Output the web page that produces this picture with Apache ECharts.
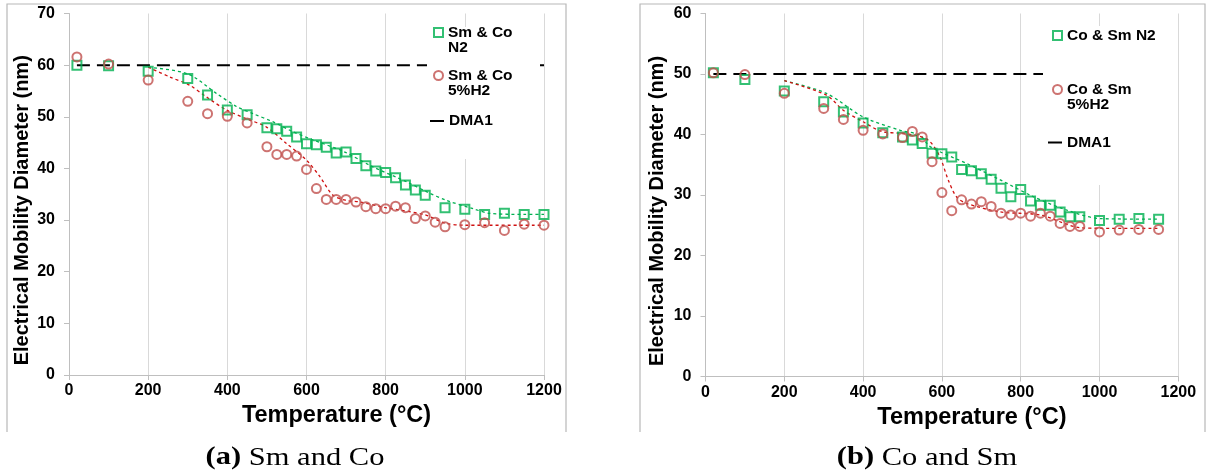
<!DOCTYPE html>
<html><head><meta charset="utf-8">
<script src="https://cdn.jsdelivr.net/npm/echarts@6/dist/echarts.min.js"></script>
<style>html,body{margin:0;padding:0;background:#fff}#c{width:1206px;height:475px}</style>
</head><body><div id="c"></div>
<script>
// ---------- tick labels ----------
const xTicks = [0, 200, 400, 600, 800, 1000, 1200];
const yTicksLeft = [0, 10, 20, 30, 40, 50, 60, 70];
const yTicksRight = [0, 10, 20, 30, 40, 50, 60];

// ---------- (a) Sm and Co ----------
const leftN2Temp = [20,100,200,300,350,400,450,500,525,550,575,600,625,650,675,700,725,750,775,800,825,850,875,900,950,1000,1050,1100,1150,1200];
const leftN2Val  = [60.0,59.9,58.8,57.4,54.2,51.3,50.4,47.9,47.7,47.2,46.1,44.8,44.6,44.1,43.0,43.2,41.9,40.5,39.5,39.2,38.2,36.8,35.8,34.8,32.4,32.1,31.1,31.3,31.1,31.1];
const leftH2Temp = [20,100,200,300,350,400,450,500,525,550,575,600,625,650,675,700,725,750,775,800,825,850,875,900,925,950,1000,1050,1100,1150,1200];
const leftH2Val  = [61.6,60.2,57.1,53.0,50.6,50.1,48.8,44.2,42.7,42.7,42.4,39.8,36.1,34.0,34.0,34.0,33.5,32.6,32.2,32.2,32.7,32.4,30.3,30.8,29.6,28.7,29.1,29.5,28.0,29.2,29.0];
const leftN2TrendTemp = [200,300,373,423,465,516,566,617,693,768,853,903,954,1021,1063,1150,1200];
const leftN2TrendVal  = [59.6,58.3,54.5,52.0,50.6,49.0,47.1,45.5,43.3,40.3,37.4,35.5,33.8,32.2,31.3,31.1,31.1];
const leftH2TrendTemp = [200,255,305,348,398,449,499,550,600,634,667,701,735,800,900,950,1000,1200];
const leftH2TrendVal  = [59.6,57.7,56.1,53.8,51.3,49.6,48.0,44.8,41.6,38.4,34.8,33.8,33.5,32.4,31.0,29.4,29.0,29.0];
const leftDmaTemp = [20, 1200];
const leftDmaVal  = [60, 60];

// ---------- (b) Co and Sm ----------
const rightTemp  = [20,100,200,300,350,400,450,500,525,550,575,600,625,650,675,700,725,750,775,800,825,850,875,900,925,950,1000,1050,1100,1150];
const rightN2Val = [50.2,49.1,47.2,45.4,43.7,41.9,40.3,39.6,39.1,38.5,36.9,36.8,36.3,34.2,34.0,33.5,32.6,31.1,29.7,30.9,29.0,28.3,28.3,27.2,26.4,26.4,25.8,26.0,26.1,26.0];
const rightH2Val = [50.2,49.9,46.8,44.3,42.5,40.7,40.1,39.5,40.5,39.6,35.5,30.4,27.4,29.2,28.5,28.9,28.1,27.0,26.7,27.0,26.5,27.0,26.5,25.3,24.8,24.8,23.9,24.2,24.3,24.3];
const rightN2TrendTemp = [200,307,400,494,544,570,663,748,833,917,1001,1150];
const rightN2TrendVal  = [48.9,46.8,42.9,40.7,39.9,38.0,35.2,32.5,29.7,27.5,26.1,26.0];
const rightH2TrendTemp = [200,307,350,400,447,494,544,570,595,616,637,663,748,849,950,1001,1150];
const rightH2TrendVal  = [48.9,46.5,44.0,42.1,40.5,40.2,39.7,38.8,36.3,32.5,29.7,28.6,27.2,26.7,24.6,24.5,24.5];
const rightDmaTemp = [20, 1150];
const rightDmaVal  = [50, 50];

const seriesNames = {
  lN2: 'Sm & Co\nN2', lH2: 'Sm & Co\n5%H2',
  rN2: 'Co & Sm N2',  rH2: 'Co & Sm\n5%H2', dma: 'DMA1'
};

// ---------- styling ----------
const FONT = '"Liberation Sans", Arial, Helvetica, sans-serif';
const GREEN = '#00b050';
const RED = '#c0504d';
const RED_TREND = '#d01010';
const AXIS_GRAY = '#bfbfbf';
const GRID_GRAY = '#d9d9d9';

const pairs = (xs, ys) => xs.map((x, i) => [x, ys[i]]);

function xAxis(gridIndex) {
  return {
    type: 'value', gridIndex,
    min: xTicks[0], max: xTicks[xTicks.length - 1], interval: xTicks[1] - xTicks[0],
    name: 'Temperature (°C)', nameLocation: 'middle', nameGap: 22,
    nameTextStyle: { fontFamily: FONT, fontWeight: 'bold', fontSize: 23.5, color: '#000', padding: [0, 0, 0, 60] },
    axisLine: { show: true, onZero: false, lineStyle: { color: AXIS_GRAY, width: 1 } },
    axisTick: { show: true, length: 5, lineStyle: { color: AXIS_GRAY } },
    axisLabel: { fontFamily: FONT, fontWeight: 'bold', fontSize: 16, color: '#000', margin: 8,
      formatter: v => String(v) },
    splitLine: { show: true, lineStyle: { color: GRID_GRAY, width: 1 } }
  };
}
function yAxis(gridIndex, ticks, gap) {
  return {
    type: 'value', gridIndex,
    min: ticks[0], max: ticks[ticks.length - 1], interval: ticks[1] - ticks[0],
    name: 'Electrical Mobility Diameter (nm)', nameLocation: 'middle', nameGap: gap,
    nameTextStyle: { fontFamily: FONT, fontWeight: 'bold', fontSize: 20, color: '#000', padding: [0, 32, 0, 0] },
    axisLine: { show: true, lineStyle: { color: AXIS_GRAY, width: 1 } },
    axisTick: { show: true, length: 5, lineStyle: { color: AXIS_GRAY } },
    axisLabel: { fontFamily: FONT, fontWeight: 'bold', fontSize: 16, color: '#000', margin: 14,
      formatter: v => String(v) },
    splitLine: { show: false }
  };
}
function squares(name, data, idx) {
  return { type: 'scatter', name, xAxisIndex: idx, yAxisIndex: idx, data, symbol: 'rect', symbolSize: 9,
    itemStyle: { color: 'rgba(255,255,255,0)', borderColor: GREEN, borderWidth: 2 }, z: 3 };
}
function circles(name, data, idx) {
  return { type: 'scatter', name, xAxisIndex: idx, yAxisIndex: idx, data, symbol: 'circle', symbolSize: 9,
    itemStyle: { color: 'rgba(255,255,255,0)', borderColor: RED, borderWidth: 2 }, z: 3 };
}
function trend(name, data, idx, color) {
  return { type: 'line', name, xAxisIndex: idx, yAxisIndex: idx, data, showSymbol: false, symbol: 'none',
    smooth: 0.3, lineStyle: { color, width: 1.3, type: [3, 3] }, z: 2, silent: true };
}
function dma(data, idx) {
  return { type: 'line', name: seriesNames.dma, xAxisIndex: idx, yAxisIndex: idx, data, showSymbol: false, symbol: 'none',
    lineStyle: { color: '#000', width: 2, type: [13, 7] }, itemStyle: { color: '#000' }, z: 2 };
}

const LFS = 15.5, LLH = 15;
const legendText = { fontFamily: FONT, fontWeight: 'bold', fontSize: LFS, lineHeight: LLH, color: '#000' };
// multi-line legend labels: first line level with the icon (a blank spacer line above balances the block)
function legendFormatter(name) {
  const lines = name.split('\n');
  if (lines.length === 1) return name;
  return '{s| }\n' + lines.map(l => '{t|' + l + '}').join('\n');
}
function legendItem(name, left, top, kind) {
  const base = { left, top, padding: 0, selectedMode: false, orient: 'vertical', itemGap: 0, z: 6,
    formatter: legendFormatter };
  const textStyle = Object.assign({}, legendText, {
    rich: { t: Object.assign({}, legendText), s: { fontSize: LFS, lineHeight: LLH } }
  });
  if (kind === 'dma') {
    return Object.assign(base, { itemWidth: 14, itemHeight: 2,
      data: [{ name, icon: 'rect', itemStyle: { color: '#000', borderWidth: 0 } }], textStyle });
  }
  return Object.assign(base, { itemWidth: 9, itemHeight: 9,
    data: [{ name, icon: kind === 'sq' ? 'rect' : 'circle',
      itemStyle: { color: '#fff', borderColor: kind === 'sq' ? GREEN : RED, borderWidth: 2 } }],
    textStyle });
}
// place a legend item so that its icon centre sits at (iconLeft, iconCy)
function legendAt(name, iconLeft, iconCy, kind) {
  const lines = name.split('\n').length;
  const h = lines === 1 ? LLH : (lines + 1) * LLH;
  return legendItem(name, iconLeft, iconCy - h / 2, kind);
}

const frame = '#b8b8b8';
const serif = '"Liberation Serif", "DejaVu Serif", serif';
const option = {
  animation: false,
  backgroundColor: '#fff',
  grid: [
    { left: 69, top: 13.5, width: 475, height: 361.5, containLabel: false },
    { left: 705.5, top: 13.5, width: 472.8, height: 363, containLabel: false }
  ],
  xAxis: [xAxis(0), xAxis(1)],
  yAxis: [yAxis(0, yTicksLeft, 37), yAxis(1, yTicksRight, 38)],
  legend: [
    legendAt(seriesNames.lN2, 433, 32, 'sq'),
    legendAt(seriesNames.lH2, 433, 75, 'ci'),
    legendAt(seriesNames.dma, 430, 120.5, 'dma'),
    legendAt(seriesNames.rN2, 1052, 35, 'sq'),
    legendAt(seriesNames.rH2, 1052, 89, 'ci'),
    legendAt(seriesNames.dma, 1048, 142, 'dma')
  ],
  series: [
    dma(pairs(leftDmaTemp, leftDmaVal), 0),
    trend('lN2 trend', pairs(leftN2TrendTemp, leftN2TrendVal), 0, GREEN),
    trend('lH2 trend', pairs(leftH2TrendTemp, leftH2TrendVal), 0, RED_TREND),
    squares(seriesNames.lN2, pairs(leftN2Temp, leftN2Val), 0),
    circles(seriesNames.lH2, pairs(leftH2Temp, leftH2Val), 0),
    dma(pairs(rightDmaTemp, rightDmaVal), 1),
    trend('rN2 trend', pairs(rightN2TrendTemp, rightN2TrendVal), 1, GREEN),
    trend('rH2 trend', pairs(rightH2TrendTemp, rightH2TrendVal), 1, RED_TREND),
    squares(seriesNames.rN2, pairs(rightTemp, rightN2Val), 1),
    circles(seriesNames.rH2, pairs(rightTemp, rightH2Val), 1)
  ],
  graphic: [
    { type: 'rect', z: 5, silent: true, shape: { x: 427, y: 27, width: 113, height: 132 }, style: { fill: '#fff' } },
    { type: 'rect', z: 5, silent: true, shape: { x: 1043, y: 26, width: 118, height: 159 }, style: { fill: '#fff' } },
    { type: 'polyline', z: 5, silent: true, shape: { points: [[7, 432], [7, 4], [566, 4], [566, 432]] },
      style: { fill: null, stroke: frame, lineWidth: 1.2 } },
    { type: 'polyline', z: 5, silent: true, shape: { points: [[640, 432], [640, 4], [1205, 4], [1205, 432]] },
      style: { fill: null, stroke: frame, lineWidth: 1.2 } },
    { type: 'text', z: 5, x: 295, y: 458, scaleX: 1.22, style: { text: '{b|(a)} Sm and Co', align: 'center', verticalAlign: 'middle',
      fontFamily: serif, fontSize: 25, fill: '#000',
      rich: { b: { fontWeight: 'bold', fontFamily: serif, fontSize: 25 } } } },
    { type: 'text', z: 5, x: 927, y: 458, scaleX: 1.22, style: { text: '{b|(b)} Co and Sm', align: 'center', verticalAlign: 'middle',
      fontFamily: serif, fontSize: 25, fill: '#000',
      rich: { b: { fontWeight: 'bold', fontFamily: serif, fontSize: 25 } } } }
  ]
};
const chart = echarts.init(document.getElementById('c'), null, { renderer: 'canvas' });
chart.setOption(option);
</script>
</body></html>
